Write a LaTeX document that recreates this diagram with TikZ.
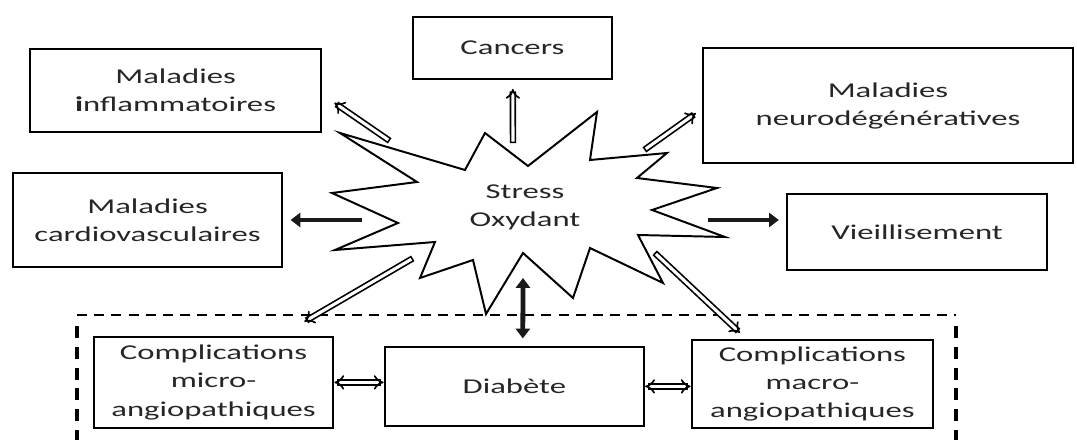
\documentclass[tikz,border=0pt]{standalone}
\usepackage{fontspec}
\setmainfont{Carlito}[FakeStretch=1.55]
\usetikzlibrary{arrows.meta}
\tikzset{
  boite/.style={draw,line width=1.6pt,align=center,inner sep=2pt,text=black!85,
    font=\fontsize{15}{20}\selectfont},
  creux/.style={line width=1.2pt,double=white,double distance=2.2pt,line cap=rect},
  plein/.style={line width=3.4pt,draw=black!90},
}

\begin{document}
\begin{tikzpicture}[>={Triangle[length=7pt,width=10pt]}]
    \useasboundingbox (0,0) rectangle (26.925,11);
    % cadre du diabete
    \draw[line width=1.4pt,dash pattern=on 0.25cm off 0.18cm] (1.925,3.125) -- (23.9,3.125);
    \draw[line width=3pt,dash pattern=on 0.3cm off 0.22cm] (1.925,2.85) -- (1.925,0);
    \draw[line width=3pt,dash pattern=on 0.3cm off 0.22cm] (23.9,2.85) -- (23.9,0);
    % etoile
    \draw[line width=1.4pt,line join=miter] (8.5,7.675) -- (11.625,6.75) -- (12.125,7.675)
      -- (13.2,6.85) -- (14.925,8.2) -- (14.75,7.0) -- (16.675,7.175) -- (15.925,6.55)
      -- (17.925,6.3) -- (16.3,5.75) -- (18.125,5.075) -- (15.95,5.125) -- (16.575,3.925)
      -- (14.75,4.8) -- (14.325,3.55) -- (13.075,4.675) -- (12.15,3.15) -- (11.825,4.5)
      -- (10.5,4.05) -- (10.875,4.95) -- (8.375,4.75) -- (9.95,5.425) -- (8.3,6.175)
      -- (10.425,6.45) -- cycle;
    \node[align=center,text=black!85,font=\fontsize{15}{20}\selectfont] (stress) at (13.125,5.825) {Stress\\Oxydant};
    % boites
    \node[boite,minimum width=7.28cm,minimum height=2.08cm] (infl) at (4.39,8.74) {Maladies\\\textbf{i}nflammatoires};
    \node[boite,minimum width=4.98cm,minimum height=1.55cm] (cancer) at (12.81,9.8) {Cancers};
    \node[boite,minimum width=9.25cm,minimum height=2.88cm] (neuro) at (22.2,8.36) {Maladies\\neurodégénératives};
    \node[boite,minimum width=6.73cm,minimum height=2.35cm] (cardio) at (3.69,5.5) {Maladies\\cardiovasculaires};
    \node[boite,minimum width=6.5cm,minimum height=1.9cm] (vieil) at (22.93,5.2) {Vieillisement};
    \node[boite,minimum width=5.98cm,minimum height=2.28cm] (micro) at (5.34,1.44) {Complications\\micro-\\angiopathiques};
    \node[boite,minimum width=6.48cm,minimum height=1.98cm] (diab) at (12.86,1.34) {Diabète};
    \node[boite,minimum width=6.03cm,minimum height=2.2cm] (macro) at (20.31,1.4) {Complications\\macro-\\angiopathiques};
    % departs des fleches
    \coordinate (t-infl) at (9.675,7.525);
    \coordinate (t-cancer) at (12.825,7.5);
    \coordinate (t-neuro) at (16.175,7.3);
    \coordinate (t-cardio) at (9.05,5.5);
    \coordinate (t-vieil) at (17.7,5.5);
    \coordinate (t-micro) at (10.25,4.5);
    \coordinate (t-macro) at (16.425,4.625);
    \coordinate (t-diab) at (13.075,4.05);
    % fleches
    \draw[creux,-Implies] (t-infl) -- ([xshift=0.3cm,yshift=-0.31cm]infl.east);
    \draw[creux,-Implies] (t-cancer) -- ([xshift=0.01cm,yshift=-0.22cm]cancer.south);
    \draw[creux,-Implies] (t-neuro) -- ([xshift=-0.15cm,yshift=-0.19cm]neuro.west);
    \draw[creux,-Implies] (t-micro) -- ([xshift=-0.75cm,yshift=0.35cm]micro.north east);
    \draw[creux,-Implies] (t-macro) -- ([xshift=-1.81cm,yshift=0.15cm]macro.north);
    \draw[plein,->] (t-cardio) -- ([xshift=0.18cm]cardio.east);
    \draw[plein,->] (t-vieil) -- ([xshift=-0.18cm,yshift=0.3cm]vieil.west);
    \draw[plein,<->] (t-diab) -- ([xshift=0.21cm,yshift=0.18cm]diab.north);
    \draw[creux,Implies-Implies] (micro.east) -- (micro.east -| diab.west);
    \draw[creux,Implies-Implies] (diab.east) -- (diab.east -| macro.west);
\end{tikzpicture}
\end{document}
